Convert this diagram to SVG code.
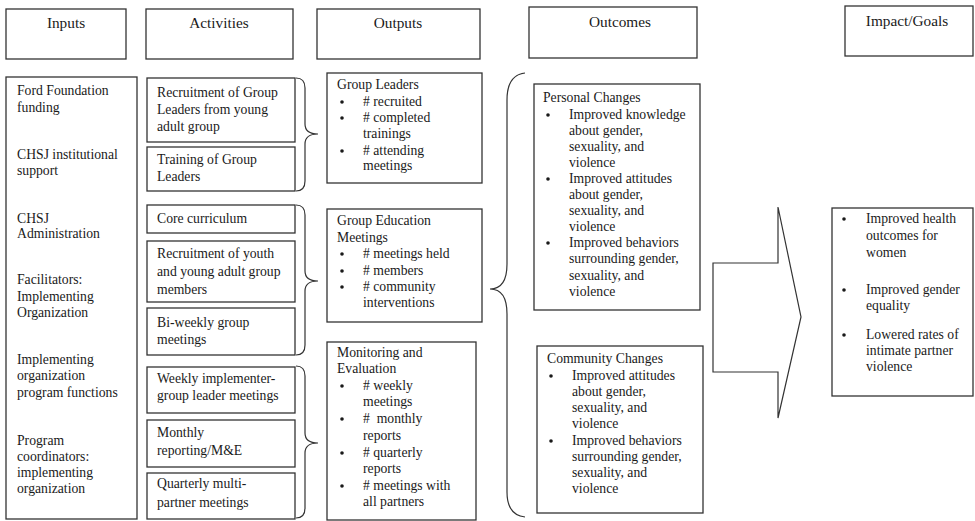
<svg xmlns="http://www.w3.org/2000/svg" width="975" height="521" viewBox="0 0 975 521">
<style>
.b{fill:#fff;stroke:#333;stroke-width:1.3}
.c{fill:none;stroke:#333;stroke-width:1.2}
text{font-family:"Liberation Serif","Times New Roman",serif;font-size:13.7px;fill:#1a1a1a}
.h{font-size:15.3px;text-anchor:middle}
.d{fill:#1a1a1a}
</style>
<rect width="975" height="521" fill="#fff"/>
<g id="hdr-inputs"><rect class="b" x="6" y="9" width="120" height="50"/><text class="h" x="66" y="28">Inputs</text></g>
<g id="hdr-activities"><rect class="b" x="146" y="9" width="147" height="50"/><text class="h" x="219" y="28">Activities</text></g>
<g id="hdr-outputs"><rect class="b" x="317" y="9" width="163" height="50"/><text class="h" x="398" y="28">Outputs</text></g>
<g id="hdr-outcomes"><rect class="b" x="529" y="7" width="168" height="51"/><text class="h" x="620" y="27">Outcomes</text></g>
<g id="hdr-impact"><rect class="b" x="845" y="6" width="128" height="50"/><text class="h" x="907" y="26">Impact/Goals</text></g>

<g id="inputs"><rect class="b" x="6" y="77" width="131" height="442"/>
<text x="17"><tspan x="17" y="95">Ford Foundation</tspan><tspan x="17" y="112">funding</tspan><tspan x="17" y="159">CHSJ institutional</tspan><tspan x="17" y="175">support</tspan><tspan x="17" y="223">CHSJ</tspan><tspan x="17" y="238">Administration</tspan><tspan x="17" y="284">Facilitators:</tspan><tspan x="17" y="301">Implementing</tspan><tspan x="17" y="317">Organization</tspan><tspan x="17" y="364">Implementing</tspan><tspan x="17" y="380">organization</tspan><tspan x="17" y="397">program functions</tspan><tspan x="17" y="445">Program</tspan><tspan x="17" y="461">coordinators:</tspan><tspan x="17" y="477">implementing</tspan><tspan x="17" y="493">organization</tspan></text></g>

<g id="act1"><rect class="b" x="147" y="78" width="148" height="64"/><text><tspan x="157" y="97">Recruitment of Group</tspan><tspan x="157" y="114">Leaders from young</tspan><tspan x="157" y="131">adult group</tspan></text></g>
<g id="act2"><rect class="b" x="147" y="147" width="148" height="44"/><text><tspan x="157" y="164">Training of Group</tspan><tspan x="157" y="181">Leaders</tspan></text></g>
<g id="act3"><rect class="b" x="147" y="205" width="148" height="28"/><text><tspan x="157" y="223">Core curriculum</tspan></text></g>
<g id="act4"><rect class="b" x="147" y="241" width="148" height="61"/><text><tspan x="157" y="258">Recruitment of youth</tspan><tspan x="157" y="276">and young adult group</tspan><tspan x="157" y="294">members</tspan></text></g>
<g id="act5"><rect class="b" x="147" y="308" width="148" height="47"/><text><tspan x="157" y="327">Bi-weekly group</tspan><tspan x="157" y="344">meetings</tspan></text></g>
<g id="act6"><rect class="b" x="147" y="367" width="148" height="46"/><text><tspan x="157" y="383">Weekly implementer-</tspan><tspan x="157" y="400">group leader meetings</tspan></text></g>
<g id="act7"><rect class="b" x="147" y="420" width="148" height="47"/><text><tspan x="157" y="437">Monthly</tspan><tspan x="157" y="455">reporting/M&amp;E</tspan></text></g>
<g id="act8"><rect class="b" x="147" y="473" width="148" height="46"/><text><tspan x="157" y="488">Quarterly multi-</tspan><tspan x="157" y="507">partner meetings</tspan></text></g>

<g id="out1"><rect class="b" x="327" y="73" width="155" height="110"/>
<text><tspan x="337" y="89">Group Leaders</tspan><tspan x="363" y="106"># recruited</tspan><tspan x="363" y="122"># completed</tspan><tspan x="363" y="138">trainings</tspan><tspan x="363" y="155"># attending</tspan><tspan x="363" y="170">meetings</tspan></text>
<circle class="d" cx="342" cy="102" r="1.8"/><circle class="d" cx="342" cy="118" r="1.8"/><circle class="d" cx="342" cy="151" r="1.8"/></g>
<g id="out2"><rect class="b" x="327" y="209" width="155" height="113"/>
<text><tspan x="337" y="225">Group Education</tspan><tspan x="337" y="242">Meetings</tspan><tspan x="363" y="258"># meetings held</tspan><tspan x="363" y="275"># members</tspan><tspan x="363" y="291"># community</tspan><tspan x="363" y="307">interventions</tspan></text>
<circle class="d" cx="342" cy="254" r="1.8"/><circle class="d" cx="342" cy="271" r="1.8"/><circle class="d" cx="342" cy="287" r="1.8"/></g>
<g id="out3"><rect class="b" x="327" y="342" width="149" height="178"/>
<text><tspan x="337" y="357">Monitoring and</tspan><tspan x="337" y="373">Evaluation</tspan><tspan x="363" y="390"># weekly</tspan><tspan x="363" y="406">meetings</tspan><tspan x="363" y="423">#&#160; monthly</tspan><tspan x="363" y="440">reports</tspan><tspan x="363" y="457"># quarterly</tspan><tspan x="363" y="473">reports</tspan><tspan x="363" y="490"># meetings with</tspan><tspan x="363" y="506">all partners</tspan></text>
<circle class="d" cx="342" cy="386" r="1.8"/><circle class="d" cx="342" cy="419" r="1.8"/><circle class="d" cx="342" cy="453" r="1.8"/><circle class="d" cx="342" cy="486" r="1.8"/></g>

<g id="personal"><rect class="b" x="534" y="84" width="166" height="226"/>
<text><tspan x="543" y="102">Personal Changes</tspan><tspan x="569" y="119">Improved knowledge</tspan><tspan x="569" y="135">about gender,</tspan><tspan x="569" y="151">sexuality, and</tspan><tspan x="569" y="167">violence</tspan><tspan x="569" y="183">Improved attitudes</tspan><tspan x="569" y="199">about gender,</tspan><tspan x="569" y="215">sexuality, and</tspan><tspan x="569" y="231">violence</tspan><tspan x="569" y="247">Improved behaviors</tspan><tspan x="569" y="263">surrounding gender,</tspan><tspan x="569" y="280">sexuality, and</tspan><tspan x="569" y="296">violence</tspan></text>
<circle class="d" cx="548" cy="115" r="1.8"/><circle class="d" cx="548" cy="179" r="1.8"/><circle class="d" cx="548" cy="243" r="1.8"/></g>
<g id="community"><rect class="b" x="537" y="346" width="166" height="167"/>
<text><tspan x="547" y="363">Community Changes</tspan><tspan x="572" y="380">Improved attitudes</tspan><tspan x="572" y="396">about gender,</tspan><tspan x="572" y="412">sexuality, and</tspan><tspan x="572" y="428">violence</tspan><tspan x="572" y="445">Improved behaviors</tspan><tspan x="572" y="461">surrounding gender,</tspan><tspan x="572" y="477">sexuality, and</tspan><tspan x="572" y="493">violence</tspan></text>
<circle class="d" cx="551" cy="376" r="1.8"/><circle class="d" cx="551" cy="441" r="1.8"/></g>

<g id="impact"><rect class="b" x="832" y="208" width="141" height="188"/>
<text><tspan x="866" y="223">Improved health</tspan><tspan x="866" y="240">outcomes for</tspan><tspan x="866" y="257">women</tspan><tspan x="866" y="294">Improved gender</tspan><tspan x="866" y="310">equality</tspan><tspan x="866" y="339">Lowered rates of</tspan><tspan x="866" y="355">intimate partner</tspan><tspan x="866" y="371">violence</tspan></text>
<circle class="d" cx="844" cy="219" r="1.8"/><circle class="d" cx="844" cy="290" r="1.8"/><circle class="d" cx="844" cy="335" r="1.8"/></g>

<g id="connectors">
<path class="c" d="M296,78 Q305,78 305,88 V124 Q305,134 318,134 Q305,134 305,144 V181 Q305,191 296,191"/>
<path class="c" d="M296,205 Q305,205 305,215 V271 Q305,281 318,281 Q305,281 305,291 V345 Q305,355 296,355"/>
<path class="c" d="M296,366 Q305,366 305,376 V433 Q305,443 318,443 Q305,443 305,453 V508 Q305,518 296,518"/>
<path class="c" d="M525,73 Q507,75 507,100 V264 Q507,289 490,289 Q507,289 507,314 V492 Q507,515 525,517"/>
<path class="c" fill="#fff" d="M713,263 H778 V207 L801,317 L778,418 V372 H713 Z"/>
</g>
</svg>
